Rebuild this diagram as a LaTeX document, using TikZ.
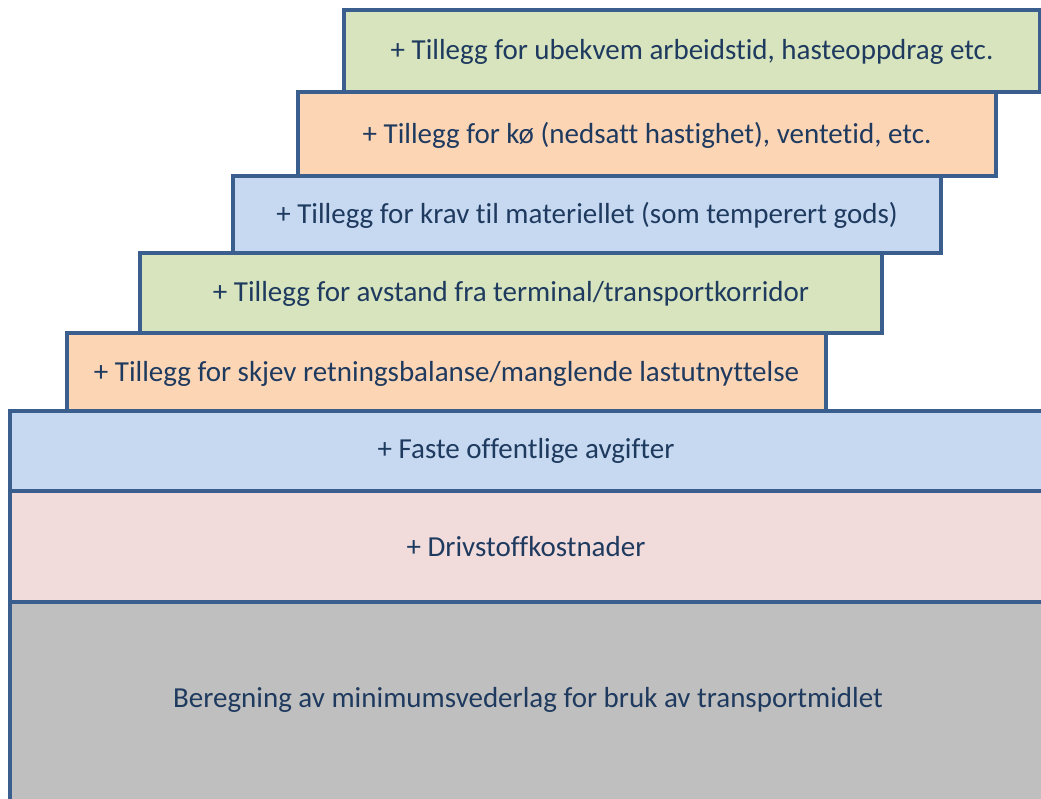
\documentclass[tikz,border=0pt]{standalone}
\usepackage{fontspec}
\setmainfont{Carlito}[Ligatures={NoCommon}]
\definecolor{edge}{HTML}{3A5F8E}
\definecolor{txt}{HTML}{1F3A5F}
\definecolor{fgreen}{HTML}{D7E4BD}
\definecolor{fpeach}{HTML}{FCD5B5}
\definecolor{fblue}{HTML}{C6D9F1}
\definecolor{fpink}{HTML}{F2DCDB}
\definecolor{fgray}{HTML}{BFBFBF}
\begin{document}
\begin{tikzpicture}[x=1pt,y=-1pt,
  stepbox/.style={draw=edge, line width=3.5pt},
  label/.style={text=txt, font=\fontsize{29}{34}\selectfont, inner sep=0pt}]
\useasboundingbox (0,0) rectangle (1041,798);
\clip (0,0) rectangle (1041,798);
% bottom layers
\draw[stepbox, fill=fgray] (10,602) rectangle (1046,802);
\draw[stepbox, fill=fpink] (10,491) rectangle (1046,602);
\draw[stepbox, fill=fblue] (10,411) rectangle (1046,491);
\node[label] (t8) at (528,700) {Beregning av minimumsvederlag for bruk av transportmidlet};
\node[label] (t7) at (526,547) {+ Drivstoffkostnader};
\node[label] (t6) at (526,451) {+ Faste offentlige avgifter};
% steps
\draw[stepbox, fill=fpeach] (67,333) rectangle (826,411);
\node[label] (t5) at (446.5,374) {+ Tillegg for skjev retningsbalanse/manglende lastutnyttelse};
\draw[stepbox, fill=fgreen] (140,253) rectangle (882,333);
\node[label] (t4) at (511,294) {+ Tillegg for avstand fra terminal/transportkorridor};
\draw[stepbox, fill=fblue] (233,176) rectangle (941,253);
\node[label] (t3) at (587,215) {+ Tillegg for krav til materiellet (som temperert gods)};
\draw[stepbox, fill=fpeach] (298,92) rectangle (996,176);
\node[label] (t2) at (647,135) {+ Tillegg for kø (nedsatt hastighet), ventetid, etc.};
\draw[stepbox, fill=fgreen] (344,10) rectangle (1040,92);
\node[label] (t1) at (692,52) {+ Tillegg for ubekvem arbeidstid, hasteoppdrag etc.};
\end{tikzpicture}
\end{document}
